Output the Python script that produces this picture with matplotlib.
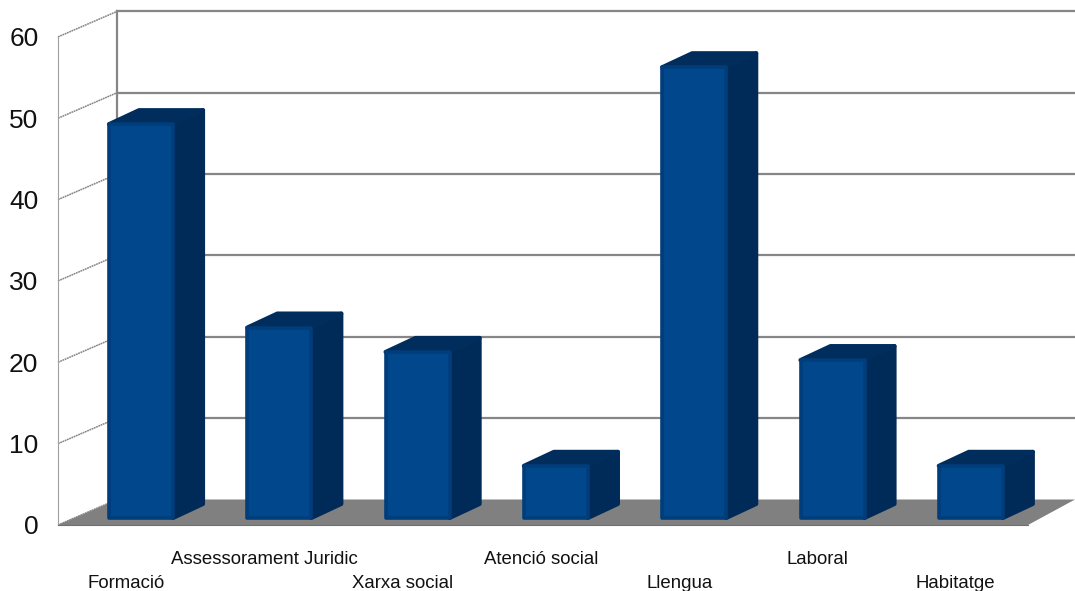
import matplotlib
matplotlib.use("Agg")
import matplotlib.pyplot as plt
from matplotlib.patches import Polygon
from matplotlib.transforms import Affine2D

plt.rcParams['font.family'] = ['Liberation Sans', 'DejaVu Sans']

# Values
categories = ['Formació', 'Assessorament Juridic', 'Xarxa social', 'Atenció social',
              'Llengua', 'Laboral', 'Habitatge']
values = [49, 24, 21, 7, 56, 20, 7]
y_ticks = [0, 10, 20, 30, 40, 50, 60]

W, H = 1075, 591
fig = plt.figure(figsize=(W / 100, H / 100), dpi=100)
ax = fig.add_axes([0, 0, 1, 1])

# one category = 138.3 px, first bar centre at 141 px; one unit = 8.135 px, zero at 525 px
px_cat = 138.3
px_val = 8.135
ax.set_xlim(-141 / px_cat, (W - 141) / px_cat)
ax.set_ylim((525 - H) / px_val, 525 / px_val)
ax.axis('off')


def x_at(px):
    return (px - 141) / px_cat


def shift(dx, dy):
    # move things in pixels, dy positive is up
    return ax.transData + Affine2D().translate(dx, dy)


grey = '#868686'
depth = 25.5
back = shift(0, depth)
x_front, x_back, x_right = x_at(58), x_at(117), x_at(W)

# floor
ax.add_patch(Polygon([(x_front, 0), (x_at(1028), 0), (x_right, depth / px_val), (x_back, depth / px_val)],
                     closed=True, fc='#808080', ec='none', zorder=1))

# walls and gridlines
for t in y_ticks:
    if t > 0:
        ax.plot([x_back, x_right], [t, t], color=grey, lw=1.6, transform=back, zorder=2)
    ax.plot([x_front, x_back], [t, t + depth / px_val], color=grey, lw=1.1, ls=(0, (1.2, 0.4)), zorder=2)
ax.plot([x_back, x_back], [0, 60], color=grey, lw=1.6, transform=back, zorder=2)
ax.plot([x_front, x_front], [0, 60], color='#a0a0a0', lw=0.8, zorder=2)
ax.plot([x_front, x_at(1028)], [0, 0], color='#707070', lw=0.8, zorder=2)

# 3d bars
half = 32 / px_cat
dx = 30 / px_cat
dy = 14 / px_val
bottom = 0.5
bar_tr = shift(0, 3)
for i, v in enumerate(values):
    x0, x1 = i - half, i + half
    top_v = v - 0.1
    side = [(x1, bottom), (x1 + dx, bottom + dy), (x1 + dx, top_v + dy), (x1, top_v)]
    top = [(x0, top_v), (x0 + dx, top_v + dy), (x1 + dx, top_v + dy), (x1, top_v)]
    front = [(x0, bottom), (x1, bottom), (x1, top_v), (x0, top_v)]
    ax.add_patch(Polygon(side, closed=True, fc='#002a57', ec='#002a57', lw=3, joinstyle='round',
                         transform=bar_tr, zorder=3))
    ax.add_patch(Polygon(top, closed=True, fc='#002d5c', ec='#002d5c', lw=3, joinstyle='round',
                         transform=bar_tr, zorder=3))
    ax.add_patch(Polygon(front, closed=True, fc='#00478c', ec='#003d7a', lw=2.6, joinstyle='round',
                         transform=bar_tr, zorder=4))

# value labels
for t in y_ticks:
    ax.text(x_at(38.5), t, str(t), ha='right', va='center_baseline', fontsize=19, color='#111111', zorder=5)

# category labels sit in two staggered rows
for i, name in enumerate(categories):
    row_y = (525 - 582) / px_val if i % 2 == 0 else (525 - 558) / px_val
    ax.text(i - 15 / px_cat, row_y, name, ha='center', va='center_baseline', fontsize=13.4, color='#111111', zorder=5)

fig.savefig('out.png', dpi=100)
